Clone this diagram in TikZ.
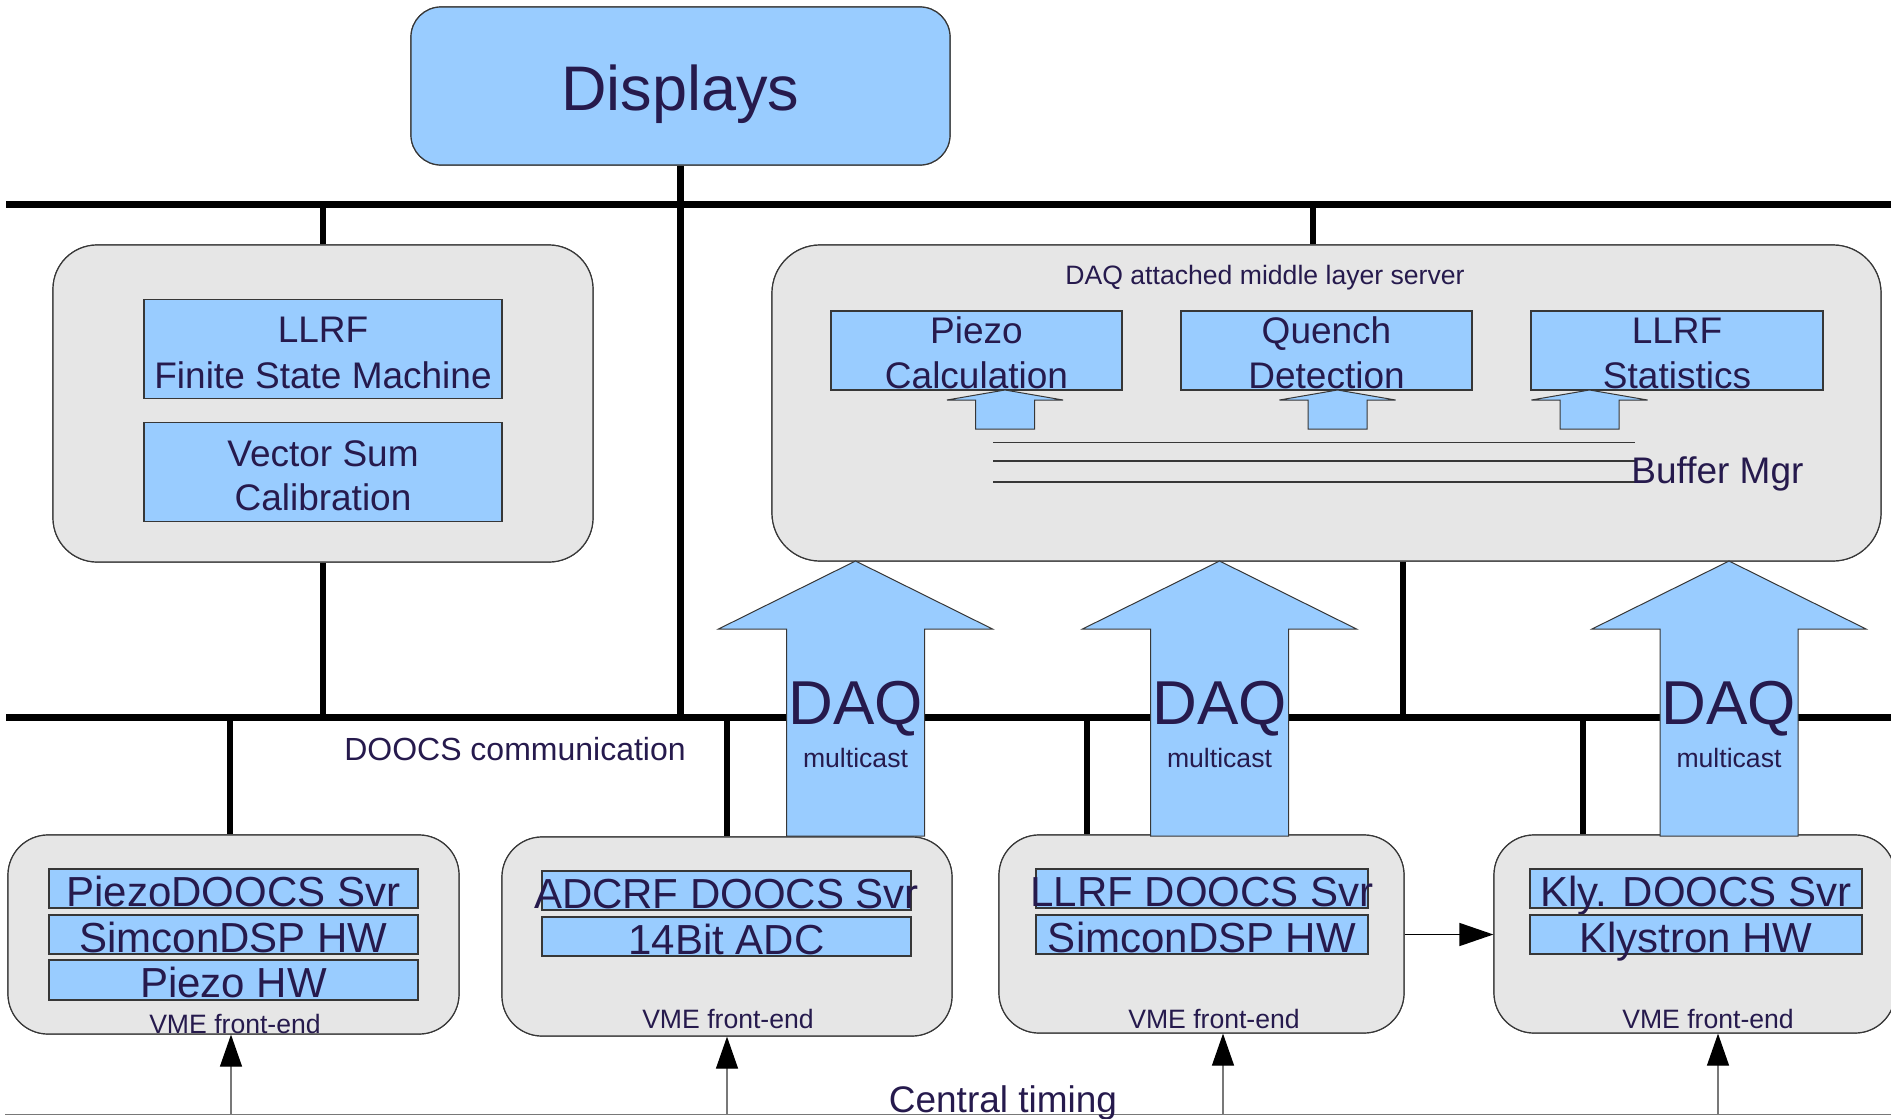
\documentclass[tikz,border=0pt]{standalone}
\usepackage{fontspec}
\setmainfont{Liberation Sans}
\usetikzlibrary{arrows.meta}
\definecolor{ink}{RGB}{38,26,77}
\definecolor{skyfill}{RGB}{153,204,255}
\definecolor{panel}{RGB}{230,230,230}
\definecolor{edge}{RGB}{55,55,55}
\definecolor{timing}{RGB}{120,120,120}

\tikzset{
  sz/.style 2 args={minimum width=#1*0.5pt, minimum height=#2*0.5pt},
  fs/.style 2 args={font=\fontsize{#1}{#2}\selectfont},
  panelbox/.style={draw=edge, line width=0.6pt, fill=panel, rounded corners=#1, inner sep=0pt},
  blk/.style={draw=edge, line width=0.7pt, fill=skyfill, inner sep=0pt, text=ink, align=center},
  oneline/.style={text height=17.8pt, text depth=0pt},
  txt/.style={text=ink, inner sep=0pt, align=center},
  bus/.style={line width=3.5pt},
  link/.style={line width=3.2pt},
  fat/.style={draw=edge, line width=0.5pt, fill=skyfill, line join=miter},
  bufline/.style={draw=edge, line width=0.6pt},
  tick/.style={draw=timing, line width=0.6pt, -{Triangle[length=16pt, width=11pt, color=black]}},
  feed/.style={draw=black, line width=0.7pt, -{Triangle[length=17pt, width=11.5pt]}},
}

\begin{document}
\begin{tikzpicture}[x=0.5pt, y=-0.5pt]
\useasboundingbox (0,0) rectangle (1891,1119);

% ---- bus coordinates -------------------------------------------------
\coordinate (topL) at (6,204.5);   \coordinate (topR) at (1891,204.5);
\coordinate (lowL) at (6,717);     \coordinate (lowR) at (1891,717);
\coordinate (timL) at (5,1114.5);  \coordinate (timR) at (1891,1114.5);

% ---- boxes (placed first so connectors can refer to them) ------------
\node[panelbox=15pt, fill=skyfill, sz={539}{158}] (disp) at (680.5,86) {};
\node[panelbox=22pt, sz={540}{317}] (fsm) at (323,403.5) {};
\node[panelbox=24pt, sz={1109}{316}] (srv) at (1326.5,403) {};
\node[panelbox=20pt, sz={451}{199}] (fe1) at (233.5,934.5) {};
\node[panelbox=20pt, sz={450}{199}] (fe2) at (727,936.5) {};
\node[panelbox=20pt, sz={405}{198}] (fe3) at (1201.5,934) {};
\node[panelbox=20pt, sz={401}{198}] (fe4) at (1694.5,934) {};

% ---- buses and links -------------------------------------------------
\draw[bus] (topL) -- (topR);
\draw[bus] (lowL) -- (lowR);
\draw[draw=timing, line width=0.7pt] (timL) -- (timR);

\coordinate (srvTop) at (1313,204.5);
\coordinate (srvLow) at (1403,717);
\draw[link] (disp.south) -- (disp.south |- lowL);
\draw[link] (fsm.north |- topL) -- (fsm.north);
\draw[link] (fsm.south) -- (fsm.south |- lowL);
\draw[link] (srvTop) -- (srvTop |- srv.north);
\draw[link] (srvLow |- srv.south) -- (srvLow);

\coordinate (d1) at (230,717);  \coordinate (d2) at (727,717);
\coordinate (d3) at (1087,717); \coordinate (d4) at (1583,717);
\draw[link] (d1) -- (d1 |- fe1.north);
\draw[link] (d2) -- (d2 |- fe2.north);
\draw[link] (d3) -- (d3 |- fe3.north);
\draw[link] (d4) -- (d4 |- fe4.north);

% redraw the boxes over the link ends
\node[panelbox=15pt, fill=skyfill, sz={539}{158}] at (disp) {};
\node[panelbox=22pt, sz={540}{317}] at (fsm) {};
\node[panelbox=24pt, sz={1109}{316}] at (srv) {};
\node[panelbox=20pt, sz={451}{199}] at (fe1) {};
\node[panelbox=20pt, sz={450}{199}] at (fe2) {};
\node[panelbox=20pt, sz={405}{198}] at (fe3) {};
\node[panelbox=20pt, sz={401}{198}] at (fe4) {};

% ---- display -----------------------------------------------------------
\node[txt, fs={31.5pt}{36pt}] (disptxt) at (680.5,94.5) {Displays};

% ---- finite state machine server --------------------------------------
\node[blk, sz={358}{98.5}] (fsmbox) at (323,349) {};
\node[txt, fs={18.5pt}{23pt}] (fsmtxt) at (323,352.5) {LLRF\\Finite State Machine};
\node[blk, sz={358}{98.5}] (vsum) at (323,472) {};
\node[txt, fs={18.5pt}{22pt}] (vsumtxt) at (323,475.5) {Vector Sum\\Calibration};

% ---- DAQ middle layer server ------------------------------------------
\node[txt, fs={13.3pt}{16pt}] (srvtitle) at (1265,277.5) {DAQ attached middle layer server};
\node[blk, sz={291}{79}] (pcalc) at (976.5,350.5) {};
\node[blk, sz={291}{79}] (qdet) at (1326.5,350.5) {};
\node[blk, sz={292}{79}] (stats) at (1677,350.5) {};
\node[txt, fs={18.5pt}{22.5pt}] (pcalctxt) at (976.5,353) {Piezo\\Calculation};
\node[txt, fs={18.5pt}{22.5pt}] (qdettxt) at (1326.5,353) {Quench\\Detection};
\node[txt, fs={18.5pt}{22.5pt}] (statstxt) at (1677,353) {LLRF\\Statistics};

\foreach \c in {1005,1337.5,1589.5} {
  \draw[fat] (\c,390) -- ++(58,10) -- ++(-28.5,0) -- ++(0,29) -- ++(-59,0)
             -- ++(0,-29) -- ++(-28.5,0) -- cycle;
}
\coordinate (bufA) at (993,442.5); \coordinate (bufB) at (993,461); \coordinate (bufC) at (993,482);
\draw[bufline] (bufA) -- ++(642,0);
\draw[bufline] (bufB) -- ++(642,0);
\draw[bufline] (bufC) -- ++(642,0);
\node[txt, anchor=west, fs={18.5pt}{22pt}] (bufmgr) at (1631,473.5) {Buffer Mgr};

% ---- bus labels --------------------------------------------------------
\node[txt, fs={16pt}{19pt}] (doocs) at (515,749) {DOOCS communication};
\node[txt, fs={18.5pt}{22pt}] (ctime) at (1003,1102.5) {Central timing};

% ---- DAQ multicast arrows ---------------------------------------------
\foreach \c/\n in {855.5/1,1219.5/2,1729/3} {
  \draw[fat] (\c,561) -- ++(137,68) -- ++(-68,0) -- ++(0,207) -- ++(-138,0)
             -- ++(0,-207) -- ++(-68,0) -- cycle;
  \node[txt, fs={31pt}{36pt}] (daq\n) at (\c,709) {DAQ};
  \node[txt, fs={13.3pt}{16pt}] (mc\n) at (\c,758) {multicast};
}

% ---- VME front-ends ----------------------------------------------------
\node[blk, oneline, sz={369}{39}, fs={21pt}{25pt}] (pz1) at (233.5,888.5) {PiezoDOOCS Svr};
\node[blk, oneline, sz={369}{39}, fs={21pt}{25pt}] (pz2) at (233.5,934.5) {SimconDSP HW};
\node[blk, oneline, sz={369}{40}, fs={21pt}{25pt}] (pz3) at (233.5,980) {Piezo HW};
\node[txt, fs={13.3pt}{16pt}] (vme1) at (235,1024) {VME front-end};

\node[blk, oneline, sz={369}{39}, fs={21pt}{25pt}] (adc1) at (726.5,890.5) {\makebox[0pt]{ADCRF DOOCS Svr}};
\node[blk, oneline, sz={369}{39}, fs={21pt}{25pt}] (adc2) at (726.5,936.5) {14Bit ADC};
\node[txt, fs={13.3pt}{16pt}] (vme2) at (728,1019) {VME front-end};

\node[blk, oneline, sz={332}{39}, fs={21pt}{25pt}] (ll1) at (1202,888.5) {\makebox[0pt]{LLRF DOOCS Svr}};
\node[blk, oneline, sz={332}{39}, fs={21pt}{25pt}] (ll2) at (1202,934.5) {SimconDSP HW};
\node[txt, fs={13.3pt}{16pt}] (vme3) at (1214,1019) {VME front-end};

\node[blk, oneline, sz={332}{39}, fs={21pt}{25pt}] (kl1) at (1696,888.5) {Kly. DOOCS Svr};
\node[blk, oneline, sz={332}{39}, fs={21pt}{25pt}] (kl2) at (1696,934.5) {Klystron HW};
\node[txt, fs={13.3pt}{16pt}] (vme4) at (1708,1019) {VME front-end};

\draw[feed] (fe3.east |- ll2) -- (fe4.west |- ll2);

% ---- central timing feeds ----------------------------------------------
\coordinate (t1) at (231,1114.5);  \coordinate (t2) at (727,1114.5);
\coordinate (t3) at (1223,1114.5); \coordinate (t4) at (1718,1114.5);
\draw[tick] (t1) -- (t1 |- fe1.south);
\draw[tick] (t2) -- (t2 |- fe2.south);
\draw[tick] (t3) -- (t3 |- fe3.south);
\draw[tick] (t4) -- (t4 |- fe4.south);
\end{tikzpicture}
\end{document}
